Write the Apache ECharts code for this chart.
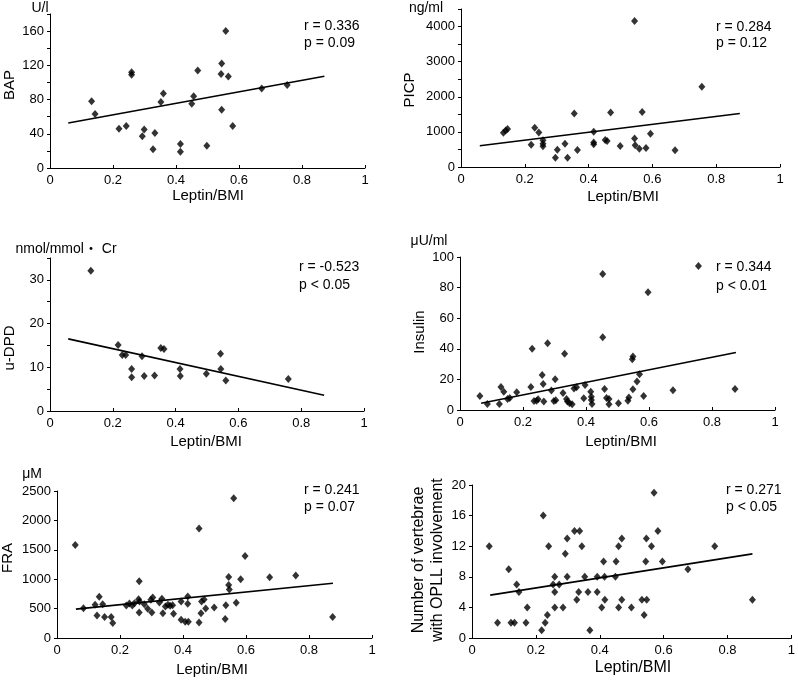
<!DOCTYPE html>
<html lang="en">
<head>
    <meta charset="UTF-8">
    <title>Leptin/BMI</title>
    <script src="https://cdn.jsdelivr.net/npm/echarts@6/dist/echarts.min.js"></script>
</head>
<body style="margin:0">
<div id="main" style="width: 798px;height:681px;"></div>

<script type="text/javascript">
    // Leptin/BMI (x) vs each marker (y)

    var bapX = [0.132, 0.143, 0.219, 0.242, 0.259, 0.259, 0.293, 0.299, 0.327, 0.333, 0.352, 0.360, 0.414, 0.414, 0.450, 0.456, 0.469, 0.498, 0.545, 0.543, 0.545, 0.558, 0.566, 0.580, 0.672, 0.753]
    var bapY = [78, 63, 46, 49, 112, 109, 37, 45, 22, 41, 77, 87, 28, 19, 75, 84, 114, 26, 122, 110, 68, 160, 107, 49, 93, 97]
    var bapFitX = [0.058, 0.871]
    var bapFitY = [52.7, 107.3]

    var picpX = [0.133, 0.140, 0.146, 0.220, 0.231, 0.244, 0.257, 0.257, 0.257, 0.296, 0.302, 0.326, 0.334, 0.355, 0.365, 0.416, 0.416, 0.416, 0.452, 0.458, 0.469, 0.499, 0.544, 0.544, 0.546, 0.559, 0.568, 0.580, 0.594, 0.671, 0.755]
    var picpY = [976, 1043, 1081, 635, 1118, 986, 760, 660, 590, 265, 493, 664, 265, 1526, 483, 1005, 701, 645, 768, 739, 1555, 597, 4161, 815, 616, 521, 1564, 540, 948, 474, 2284]
    var picpFitX = [0.059, 0.874]
    var picpFitY = [607, 1526]

    var dpdX = [0.130, 0.217, 0.230, 0.241, 0.260, 0.260, 0.293, 0.300, 0.333, 0.353, 0.363, 0.414, 0.415, 0.498, 0.543, 0.544, 0.560, 0.759]
    var dpdY = [32.1, 15.1, 12.8, 12.8, 9.6, 7.7, 12.5, 8.0, 8.1, 14.4, 14.2, 9.6, 8.0, 8.5, 13.1, 9.6, 7.0, 7.3]
    var dpdFitX = [0.058, 0.873]
    var dpdFitY = [16.5, 3.6]

    var insX = [0.063, 0.087, 0.125, 0.130, 0.139, 0.151, 0.158, 0.180, 0.225, 0.229, 0.235, 0.243, 0.248, 0.261, 0.264, 0.266, 0.278, 0.290, 0.298, 0.304, 0.302, 0.327, 0.332, 0.338, 0.341, 0.348, 0.356, 0.362, 0.370, 0.393, 0.397, 0.415, 0.417, 0.417, 0.419, 0.453, 0.453, 0.459, 0.465, 0.473, 0.473, 0.503, 0.533, 0.536, 0.547, 0.549, 0.549, 0.562, 0.570, 0.583, 0.597, 0.676, 0.757, 0.873]
    var insY = [9.2, 3.9, 3.9, 15.1, 12.0, 7.2, 7.9, 11.6, 15.1, 40.0, 5.9, 6.1, 7.0, 22.9, 17.0, 5.5, 43.7, 12.7, 5.9, 6.3, 20.1, 11.1, 36.7, 7.2, 5.5, 4.4, 3.7, 14.0, 14.8, 7.6, 16.4, 12.0, 8.7, 6.6, 3.9, 88.9, 47.6, 13.8, 7.9, 7.2, 3.7, 4.4, 6.1, 8.1, 33.2, 34.9, 13.5, 18.6, 23.4, 9.2, 76.9, 12.9, 94.1, 13.8]
    var insFitX = [0.067, 0.876]
    var insFitY = [4.4, 37.6]

    var fraX = [0.058, 0.084, 0.121, 0.127, 0.134, 0.145, 0.151, 0.172, 0.177, 0.220, 0.230, 0.239, 0.246, 0.259, 0.262, 0.261, 0.261, 0.277, 0.288, 0.298, 0.301, 0.304, 0.325, 0.333, 0.336, 0.344, 0.352, 0.359, 0.367, 0.370, 0.394, 0.394, 0.407, 0.415, 0.415, 0.417, 0.451, 0.451, 0.457, 0.459, 0.467, 0.472, 0.499, 0.534, 0.536, 0.545, 0.545, 0.547, 0.561, 0.569, 0.583, 0.597, 0.675, 0.758, 0.875]
    var fraY = [1580, 508, 564, 384, 700, 576, 356, 356, 254, 553, 587, 553, 593, 660, 620, 435, 965, 576, 497, 649, 435, 688, 604, 666, 423, 536, 564, 547, 559, 412, 621, 310, 277, 705, 581, 277, 1862, 265, 423, 621, 655, 502, 519, 322, 559, 1038, 903, 824, 2376, 598, 999, 1394, 1033, 1061, 356]
    var fraFitX = [0.060, 0.876]
    var fraFitY = [491, 931]

    var opllX = [0.054, 0.080, 0.115, 0.122, 0.133, 0.140, 0.147, 0.169, 0.173, 0.218, 0.223, 0.229, 0.236, 0.240, 0.254, 0.259, 0.259, 0.259, 0.273, 0.285, 0.292, 0.298, 0.298, 0.321, 0.328, 0.334, 0.337, 0.344, 0.353, 0.363, 0.369, 0.392, 0.392, 0.406, 0.412, 0.415, 0.416, 0.449, 0.451, 0.459, 0.459, 0.469, 0.469, 0.499, 0.532, 0.539, 0.546, 0.544, 0.547, 0.562, 0.570, 0.582, 0.596, 0.676, 0.760, 0.878]
    var opllY = [12, 2, 9, 2, 2, 7, 6, 2, 4, 1, 16, 2, 3, 12, 7, 8, 6, 4, 7, 4, 11, 13, 8, 14, 5, 6, 14, 12, 8, 6, 1, 8, 6, 4, 10, 8, 5, 8, 10, 12, 4, 13, 5, 4, 5, 3, 13, 10, 5, 12, 19, 14, 10, 9, 12, 5]
    var opllFitX = [0.057, 0.878]
    var opllFitY = [5.6, 11.0]

    var xTicks = [0, 1, 0.2]

    var font = 'Liberation Sans, Arial, Noto Sans CJK JP, sans-serif'

    var panels = [
        {x: bapX, y: bapY, fx: bapFitX, fy: bapFitY, max: 180, step: 20, label: 40,
            grid: {left: 50, right: 433, top: 14, bottom: 513}},
        {x: picpX, y: picpY, fx: picpFitX, fy: picpFitY, max: 4500, step: 500, label: 1000,
            grid: {left: 461, right: 18, top: 9, bottom: 514}},
        {x: dpdX, y: dpdY, fx: dpdFitX, fy: dpdFitY, max: 35, step: 5, label: 10,
            grid: {left: 50, right: 434, top: 258, bottom: 270}},
        {x: insX, y: insY, fx: insFitX, fy: insFitY, max: 100, step: 20, label: 20,
            grid: {left: 460, right: 23, top: 257, bottom: 271}},
        {x: fraX, y: fraY, fx: fraFitX, fy: fraFitY, max: 2500, step: 500, label: 500,
            grid: {left: 57, right: 426, top: 491, bottom: 43}},
        {x: opllX, y: opllY, fx: opllFitX, fy: opllFitY, max: 20, step: 4, label: 4,
            grid: {left: 472, right: 5, top: 485, bottom: 43}}
    ]

    function pairs(a, b) {
        var out = []
        a.forEach(function (v, i) { out.push([v, b[i]]) })
        return out
    }

    var grids = [], xAxes = [], yAxes = [], series = []
    panels.forEach(function (p, i) {
        grids.push(p.grid)
        xAxes.push({
            type: 'value', gridIndex: i, min: xTicks[0], max: xTicks[1], interval: xTicks[2],
            axisLine: {lineStyle: {color: '#000', width: 1}},
            axisTick: {inside: true, length: 3, lineStyle: {color: '#000'}},
            axisLabel: {color: '#000', fontSize: 13, fontFamily: font, margin: 6},
            splitLine: {show: false}
        })
        yAxes.push({
            type: 'value', gridIndex: i, min: 0, max: p.max, interval: p.step,
            axisLine: {show: true, lineStyle: {color: '#000', width: 1}},
            axisTick: {show: true, length: 3, lineStyle: {color: '#000'}},
            axisLabel: {
                color: '#000', fontSize: 13, fontFamily: font, margin: 6,
                formatter: function (v) { return v % p.label === 0 ? String(v) : '' }
            },
            splitLine: {show: false}
        })
        series.push({
            type: 'scatter', xAxisIndex: i, yAxisIndex: i,
            symbol: 'diamond', symbolSize: [7, 8],
            itemStyle: {color: '#000'},
            data: pairs(p.x, p.y)
        })
        series.push({
            type: 'line', xAxisIndex: i, yAxisIndex: i,
            showSymbol: false, lineStyle: {color: '#000', width: 1.6},
            data: pairs(p.fx, p.fy)
        })
    })

    function txt(text, x, y, size, rot) {
        return {
            type: 'text', x: x, y: y, rotation: rot ? Math.PI / 2 : 0,
            style: {text: text, fill: '#000', font: size + 'px ' + font,
                align: rot ? 'center' : 'left', verticalAlign: 'middle'}
        }
    }
    function ctr(text, x, y, size) {
        var t = txt(text, x, y, size, false)
        t.style.align = 'center'
        return t
    }

    var graphics = [
        ctr('U/l', 40, 8, 14), ctr('ng/ml', 426, 8, 14), ctr('nmol/mmol・ Cr', 66, 249, 14),
        ctr('μU/ml', 429, 241, 14), ctr('μM', 32, 474, 14),
        txt('BAP', 10, 85, 15, true), txt('PICP', 410, 90, 15, true), txt('u-DPD', 10, 348, 15, true),
        txt('Insulin', 420, 332, 15, true), txt('FRA', 8, 558, 15, true),
        txt('Number of vertebrae', 419, 560, 16, true), txt('with OPLL involvement', 438, 560, 16, true),
        ctr('Leptin/BMI', 208, 196, 15), ctr('Leptin/BMI', 623, 197, 15),
        ctr('Leptin/BMI', 206, 442, 15), ctr('Leptin/BMI', 621, 442, 15),
        ctr('Leptin/BMI', 212, 670, 15), ctr('Leptin/BMI', 633, 668, 16),
        txt('r = 0.336', 304, 26, 14), txt('p = 0.09', 304, 43, 14),
        txt('r = 0.284', 716, 27, 14), txt('p = 0.12', 716, 43, 14),
        txt('r = -0.523', 299, 267, 14), txt('p < 0.05', 299, 285, 14),
        txt('r = 0.344', 716, 267, 14), txt('p < 0.01', 716, 286, 14),
        txt('r = 0.241', 304, 490, 14), txt('p = 0.07', 304, 507, 14),
        txt('r = 0.271', 726, 490, 14), txt('p < 0.05', 726, 507, 14)
    ]

    var myChart = echarts.init(document.getElementById('main'))
    myChart.setOption({
        backgroundColor: '#fff',
        animation: false,
        grid: grids,
        xAxis: xAxes,
        yAxis: yAxes,
        series: series,
        graphic: graphics
    })
</script>

</body>
</html>
